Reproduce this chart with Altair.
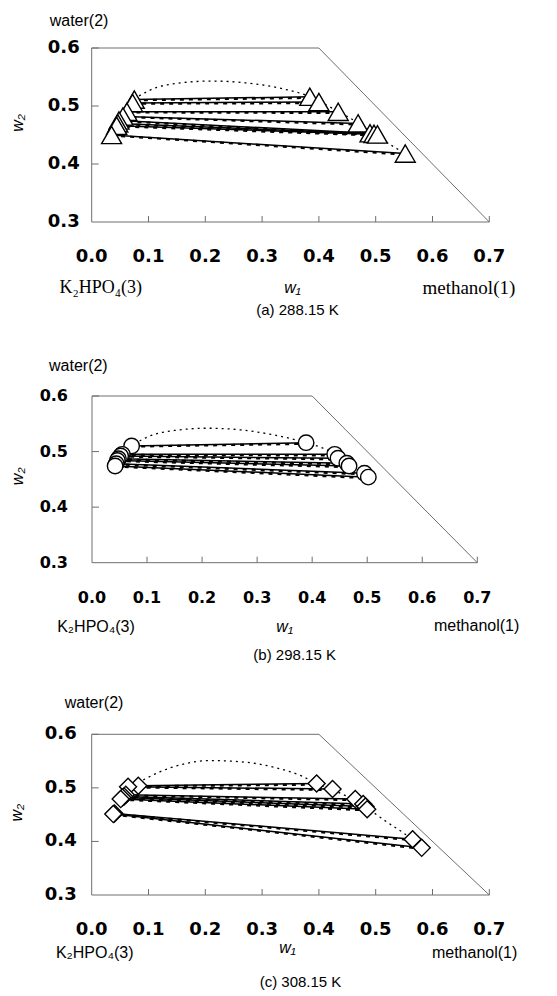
import altair as alt
import pandas as pd

# ---------------- tie-line data: w1 = methanol, w2 = water (mass fractions) ----------------
# (a) 288.15 K  -- experimental tie lines (left = salt-rich end, right = alcohol-rich end)
A_L_W1 = [0.075, 0.072, 0.062, 0.055, 0.048, 0.046, 0.044, 0.035]
A_L_W2 = [0.511, 0.505, 0.490, 0.482, 0.475, 0.470, 0.466, 0.450]
A_R_W1 = [0.384, 0.400, 0.434, 0.469, 0.490, 0.497, 0.503, 0.552]
A_R_W2 = [0.516, 0.507, 0.490, 0.470, 0.453, 0.452, 0.451, 0.418]
# (a) calculated tie lines
A_CL_W1 = [0.076, 0.073, 0.063, 0.056, 0.049, 0.047, 0.045, 0.036]
A_CL_W2 = [0.510, 0.504, 0.489, 0.481, 0.474, 0.469, 0.465, 0.449]
A_CR_W1 = [0.386, 0.403, 0.437, 0.472, 0.493, 0.500, 0.506, 0.556]
A_CR_W2 = [0.514, 0.505, 0.488, 0.468, 0.451, 0.450, 0.449, 0.416]
# (a) binodal curve
A_BIN_W1 = [0.035, 0.046, 0.055, 0.062, 0.075, 0.100, 0.150, 0.210, 0.270, 0.330,
            0.384, 0.420, 0.450, 0.490, 0.520, 0.552]
A_BIN_W2 = [0.450, 0.470, 0.484, 0.493, 0.510, 0.526, 0.539, 0.543, 0.540, 0.531,
            0.516, 0.498, 0.482, 0.457, 0.437, 0.418]

# (b) 298.15 K
B_L_W1 = [0.072, 0.055, 0.052, 0.048, 0.046, 0.044, 0.042]
B_L_W2 = [0.510, 0.495, 0.492, 0.487, 0.484, 0.478, 0.474]
B_R_W1 = [0.389, 0.441, 0.447, 0.463, 0.467, 0.495, 0.502]
B_R_W2 = [0.516, 0.495, 0.488, 0.479, 0.474, 0.461, 0.454]
B_CL_W1 = [0.073, 0.056, 0.053, 0.049, 0.047, 0.045, 0.043]
B_CL_W2 = [0.509, 0.494, 0.491, 0.486, 0.483, 0.477, 0.473]
B_CR_W1 = [0.391, 0.443, 0.449, 0.465, 0.469, 0.497, 0.504]
B_CR_W2 = [0.514, 0.493, 0.486, 0.477, 0.472, 0.459, 0.452]
B_BIN_W1 = [0.042, 0.048, 0.055, 0.072, 0.100, 0.150, 0.210, 0.270, 0.330, 0.389,
            0.420, 0.445, 0.467, 0.490, 0.502]
B_BIN_W2 = [0.474, 0.487, 0.497, 0.510, 0.526, 0.538, 0.542, 0.539, 0.530, 0.516,
            0.506, 0.493, 0.476, 0.462, 0.454]

# (c) 308.15 K
C_L_W1 = [0.082, 0.064, 0.060, 0.057, 0.054, 0.051, 0.040, 0.038]
C_L_W2 = [0.504, 0.502, 0.487, 0.484, 0.482, 0.479, 0.452, 0.451]
C_R_W1 = [0.396, 0.424, 0.464, 0.478, 0.482, 0.485, 0.565, 0.581]
C_R_W2 = [0.508, 0.498, 0.479, 0.470, 0.465, 0.460, 0.404, 0.388]
C_CL_W1 = [0.083, 0.065, 0.061, 0.058, 0.055, 0.052, 0.041, 0.039]
C_CL_W2 = [0.503, 0.501, 0.486, 0.483, 0.481, 0.478, 0.451, 0.450]
C_CR_W1 = [0.398, 0.426, 0.466, 0.480, 0.484, 0.487, 0.568, 0.584]
C_CR_W2 = [0.506, 0.496, 0.477, 0.468, 0.463, 0.458, 0.402, 0.386]
C_BIN_W1 = [0.038, 0.051, 0.064, 0.085, 0.120, 0.160, 0.210, 0.270, 0.330, 0.370,
            0.396, 0.424, 0.450, 0.485, 0.520, 0.550, 0.581]
C_BIN_W2 = [0.451, 0.481, 0.502, 0.512, 0.530, 0.544, 0.551, 0.548, 0.536, 0.522,
            0.508, 0.496, 0.484, 0.462, 0.436, 0.415, 0.388]

# axis ticks and the edge of the ternary region (w1 + w2 <= 1)
X_TICKS = [0.0, 0.1, 0.2, 0.3, 0.4, 0.5, 0.6, 0.7]
X_TICK_LABELS = ["0.0", "0.1", "0.2", "0.3", "0.4", "0.5", "0.6", "0.7"]
Y_TICKS = [0.3, 0.4, 0.5, 0.6]
Y_TICK_LABELS = ["0.3", "0.4", "0.5", "0.6"]
EDGE_W1 = [0.0, 0.0, 0.4, 0.7, 0.0]
EDGE_W2 = [0.3, 0.6, 0.6, 0.3, 0.3]

SANS = "Liberation Sans"
SERIF = "Liberation Serif"
NUM_FONT = "DejaVu Sans"

# ---------------- panel layout (pixel ranges of each panel's scales) ----------------
PANELS = [
    dict(name="a", caption="(a) 288.15 K", shape="triangle-up", msize=400,
         x_range=[91.7, 489.3], y_range=[222, 48], tick_fs=18, ylab_dx=-12,
         lbl_font=SERIF, lbl_fs=18, meth_fs=19,
         water=(-42, -27), w2=(-74, -12), salt=(9, 66), w1=(2, 66), meth=(26, 66), cap=(7, 88),
         data=(A_L_W1, A_L_W2, A_R_W1, A_R_W2, A_CL_W1, A_CL_W2, A_CR_W1, A_CR_W2,
               A_BIN_W1, A_BIN_W2)),
    dict(name="b", caption="(b) 298.15 K", shape="circle", msize=240,
         x_range=[92, 477.3], y_range=[562.7, 396], tick_fs=16, ylab_dx=-24,
         lbl_font=SANS, lbl_fs=16, meth_fs=16,
         water=(-43, -30), w2=(-74, -3), salt=(4, 64), w1=(0, 64), meth=(42, 63), cap=(10, 92),
         data=(B_L_W1, B_L_W2, B_R_W1, B_R_W2, B_CL_W1, B_CL_W2, B_CR_W1, B_CR_W2,
               B_BIN_W1, B_BIN_W2)),
    dict(name="c", caption="(c) 308.15 K", shape="diamond", msize=290,
         x_range=[91.7, 489.3], y_range=[895, 734.3], tick_fs=18, ylab_dx=-15,
         lbl_font=SANS, lbl_fs=16, meth_fs=16,
         water=(-27, -31), w2=(-75, -2), salt=(3, 58), w1=(-3, 53), meth=(28, 58), cap=(10, 87),
         data=(C_L_W1, C_L_W2, C_R_W1, C_R_W2, C_CL_W1, C_CL_W2, C_CR_W1, C_CR_W2,
               C_BIN_W1, C_BIN_W2)),
]


def panel_layers(p):
    xs = alt.Scale(domain=[0, 0.7], range=p["x_range"], nice=False, zero=False)
    ys = alt.Scale(domain=[0.3, 0.6], range=p["y_range"], nice=False, zero=False)

    def X(f):
        return alt.X(f, type="quantitative", scale=xs, axis=None)

    def Y(f):
        return alt.Y(f, type="quantitative", scale=ys, axis=None)

    lw1, lw2, rw1, rw2, clw1, clw2, crw1, crw2, bw1, bw2 = p["data"]
    layers = []

    # outline of the feasible region: w1 axis, w2 axis, w2 = 0.6 and w1 + w2 = 1
    edge = pd.DataFrame({"w1": EDGE_W1, "w2": EDGE_W2, "i": range(len(EDGE_W1))})
    layers.append(alt.Chart(edge).mark_line(color="#6e6e6e", strokeWidth=1).encode(
        x=X("w1"), y=Y("w2"), order="i:Q"))

    # tick marks (pointing into the plot)
    xt = pd.DataFrame({"w1": X_TICKS[1:], "base": [0.3] * (len(X_TICKS) - 1)})
    layers.append(alt.Chart(xt).mark_rule(color="#6e6e6e", strokeWidth=1, y2Offset=-6).encode(
        x=X("w1"), y=Y("base"), y2=alt.Y2("base")))
    yt = pd.DataFrame({"w2": Y_TICKS[1:], "zero": [0.0] * (len(Y_TICKS) - 1)})
    layers.append(alt.Chart(yt).mark_rule(color="#6e6e6e", strokeWidth=1, x2Offset=7).encode(
        x=X("zero"), x2=alt.X2("zero"), y=Y("w2")))

    # tick labels
    xl = pd.DataFrame({"w1": X_TICKS, "base": [0.3] * len(X_TICKS), "t": X_TICK_LABELS})
    layers.append(alt.Chart(xl).mark_text(
        font=NUM_FONT, fontWeight="bold", fontSize=p["tick_fs"], yOffset=35,
        baseline="middle", align="center", color="black").encode(
        x=X("w1"), y=Y("base"), text="t:N"))
    yl = pd.DataFrame({"w2": Y_TICKS, "zero": [0.0] * len(Y_TICKS), "t": Y_TICK_LABELS})
    layers.append(alt.Chart(yl).mark_text(
        font=NUM_FONT, fontWeight="bold", fontSize=p["tick_fs"], xOffset=p["ylab_dx"],
        baseline="middle", align="right", color="black").encode(
        x=X("zero"), y=Y("w2"), text="t:N"))

    # binodal curve
    binodal = pd.DataFrame({"w1": bw1, "w2": bw2, "i": range(len(bw1))})
    layers.append(alt.Chart(binodal).mark_line(
        color="black", strokeWidth=1.3, strokeDash=[2, 4], interpolate="monotone").encode(
        x=X("w1"), y=Y("w2"), order="i:Q"))

    # calculated tie lines (dashed) and experimental tie lines (solid)
    calc = pd.DataFrame({"a": clw1, "b": clw2, "c": crw1, "d": crw2})
    layers.append(alt.Chart(calc).mark_rule(
        color="black", strokeWidth=2.2, strokeDash=[4, 5]).encode(
        x=X("a"), y=Y("b"), x2=alt.X2("c"), y2=alt.Y2("d")))
    expt = pd.DataFrame({"a": lw1, "b": lw2, "c": rw1, "d": rw2})
    layers.append(alt.Chart(expt).mark_rule(color="black", strokeWidth=1.5).encode(
        x=X("a"), y=Y("b"), x2=alt.X2("c"), y2=alt.Y2("d")))

    # experimental phase compositions
    pts = pd.DataFrame({"w1": list(lw1) + list(rw1), "w2": list(lw2) + list(rw2)})
    layers.append(alt.Chart(pts).mark_point(
        shape=p["shape"], size=p["msize"], filled=True, fill="white", stroke="black",
        strokeWidth=1.4, opacity=1).encode(x=X("w1"), y=Y("w2")))

    # component names, axis symbols and caption
    def label(text, w1, w2, off, **style):
        df = pd.DataFrame({"w1": [w1], "w2": [w2], "t": [text]})
        return alt.Chart(df).mark_text(xOffset=off[0], yOffset=off[1], color="black",
                                       baseline="middle", **style).encode(
            x=X("w1"), y=Y("w2"), text="t:N")

    layers.append(label("water(2)", 0.0, 0.6, p["water"], font=SANS, fontSize=16, align="left"))
    layers.append(label("w₂", 0.0, 0.45, p["w2"], font=SANS, fontSize=16, fontStyle="italic",
                        align="center", angle=270))
    layers.append(label("K₂HPO₄(3)", 0.0, 0.3, p["salt"], font=p["lbl_font"],
                        fontSize=p["lbl_fs"], align="center"))
    layers.append(label("w₁", 0.35, 0.3, p["w1"], font=SANS, fontSize=16, fontStyle="italic",
                        align="center"))
    layers.append(label("methanol(1)", 0.7, 0.3, p["meth"], font=p["lbl_font"],
                        fontSize=p["meth_fs"], align="right"))
    layers.append(label(p["caption"], 0.35, 0.3, p["cap"], font=SANS, fontSize=15,
                        align="center"))
    return layers


all_layers = []
for p in PANELS:
    all_layers.extend(panel_layers(p))

chart = (
    alt.layer(*all_layers)
    .resolve_scale(x="independent", y="independent")
    .properties(width=557, height=996, padding=0,
                autosize=alt.AutoSizeParams(type="none"), background="white")
    .configure_view(stroke=None)
)

chart.save("out.html", embed_options={"renderer": "svg", "actions": False})
